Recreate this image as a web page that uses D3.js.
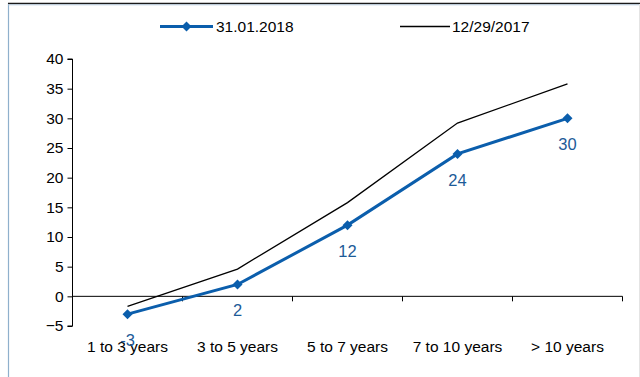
<!DOCTYPE html>
<html>
<head>
<meta charset="utf-8">
<script src="https://cdn.jsdelivr.net/npm/d3@7/dist/d3.min.js"></script>
<style>
  html, body { margin: 0; padding: 0; background: #fff; }
  svg { display: block; font-family: "Liberation Sans", Arial, sans-serif; }
</style>
</head>
<body>
<svg id="chart" width="640" height="377"></svg>
<script>
// Maturity buckets
const categories = ["1 to 3 years", "3 to 5 years", "5 to 7 years", "7 to 10 years", "> 10 years"];
// Series values
const seriesJan = [-3, 2, 12, 24, 30];
const seriesDec = [-1.7, 4.6, 15.8, 29.2, 35.8];
const seriesNames = ["31.01.2018", "12/29/2017"];
const yTicks = [-5, 0, 5, 10, 15, 20, 25, 30, 35, 40];

const blue = "#0b5eac";
const labelBlue = "#1d5b98";
const fontSize = 15.5;

const svg = d3.select("#chart");

// Frame
svg.append("line").attr("x1", 8.5).attr("x2", 8.5).attr("y1", 3).attr("y2", 377)
  .attr("stroke", "#8fb0cc").attr("stroke-width", 1.2);
svg.append("line").attr("x1", 8).attr("x2", 640).attr("y1", 3.5).attr("y2", 3.5)
  .attr("stroke", "#1a1a1a").attr("stroke-width", 1.5);
svg.append("line").attr("x1", 8).attr("x2", 640).attr("y1", 4.8).attr("y2", 4.8)
  .attr("stroke", "#b9cde0").attr("stroke-width", 1);
svg.append("line").attr("x1", 639.5).attr("x2", 639.5).attr("y1", 4).attr("y2", 377)
  .attr("stroke", "#e4e4e4").attr("stroke-width", 1);

const x = d3.scaleBand().domain(categories).range([72.5, 622.5]);
const y = d3.scaleLinear().domain([-5, 40]).range([326, 59]);
const cx = d => x(d) + x.bandwidth() / 2;

// Y axis
const yAxis = svg.append("g").attr("transform", "translate(72.5,0)")
  .call(d3.axisLeft(y).tickValues(yTicks).tickSize(5).tickPadding(4).tickFormat(d3.format("d")));
yAxis.select(".domain").attr("stroke", "#000").attr("d", `M-5,${y(40)}H0V${y(-5)}H-5`);
yAxis.selectAll("text").attr("font-size", fontSize).attr("fill", "#000")
  .attr("font-family", "Liberation Sans, Arial, sans-serif");
yAxis.selectAll(".tick line").attr("stroke", "#000");

// X axis along zero
const xAxisG = svg.append("g").attr("transform", `translate(0,${y(0)})`);
xAxisG.append("line").attr("x1", 72.5).attr("x2", 622.5).attr("y1", 0).attr("y2", 0)
  .attr("stroke", "#000").attr("stroke-width", 1);
const boundaries = categories.map(c => x(c)).concat([x.range()[1]]);
xAxisG.selectAll("line.tk").data(boundaries).enter().append("line").attr("class", "tk")
  .attr("x1", d => d).attr("x2", d => d).attr("y1", 0).attr("y2", 5)
  .attr("stroke", "#000");

// Category labels at bottom
svg.append("g").selectAll("text").data(categories).enter().append("text")
  .attr("x", d => cx(d)).attr("y", 352).attr("text-anchor", "middle")
  .attr("font-size", fontSize).attr("fill", "#000").text(d => d);

const line = d3.line().x((d, i) => cx(categories[i])).y(d => y(d));

// 12/29/2017 series
svg.append("path").datum(seriesDec).attr("d", line)
  .attr("fill", "none").attr("stroke", "#000").attr("stroke-width", 1.3);

// 31.01.2018 series
svg.append("path").datum(seriesJan).attr("d", line)
  .attr("fill", "none").attr("stroke", blue).attr("stroke-width", 3);

// Diamond markers: squares turned 45 degrees
const diamond = d3.symbol().type(d3.symbolSquare).size(50);
svg.append("g").selectAll("path").data(seriesJan).enter().append("path")
  .attr("d", diamond)
  .attr("transform", (d, i) => `translate(${cx(categories[i])},${y(d)}) rotate(45)`)
  .attr("fill", blue);

// Value labels
svg.append("g").selectAll("text").data(seriesJan).enter().append("text")
  .attr("x", (d, i) => cx(categories[i]))
  .attr("y", d => y(d) + 32)
  .attr("text-anchor", "middle").attr("font-size", 16.5).attr("fill", labelBlue)
  .text(d => d);

// Legend
const lg = svg.append("g");
lg.append("line").attr("x1", 160).attr("x2", 213).attr("y1", 26.5).attr("y2", 26.5)
  .attr("stroke", blue).attr("stroke-width", 3);
lg.append("path").attr("d", diamond).attr("transform", "translate(186.5,26.5) rotate(45)").attr("fill", blue);
lg.append("text").attr("x", 216).attr("y", 32).attr("font-size", fontSize).attr("fill", "#000").text(seriesNames[0]);
lg.append("line").attr("x1", 400).attr("x2", 450).attr("y1", 26.5).attr("y2", 26.5)
  .attr("stroke", "#000").attr("stroke-width", 1.3);
lg.append("text").attr("x", 452).attr("y", 32).attr("font-size", fontSize).attr("fill", "#000").text(seriesNames[1]);
</script>
</body>
</html>
